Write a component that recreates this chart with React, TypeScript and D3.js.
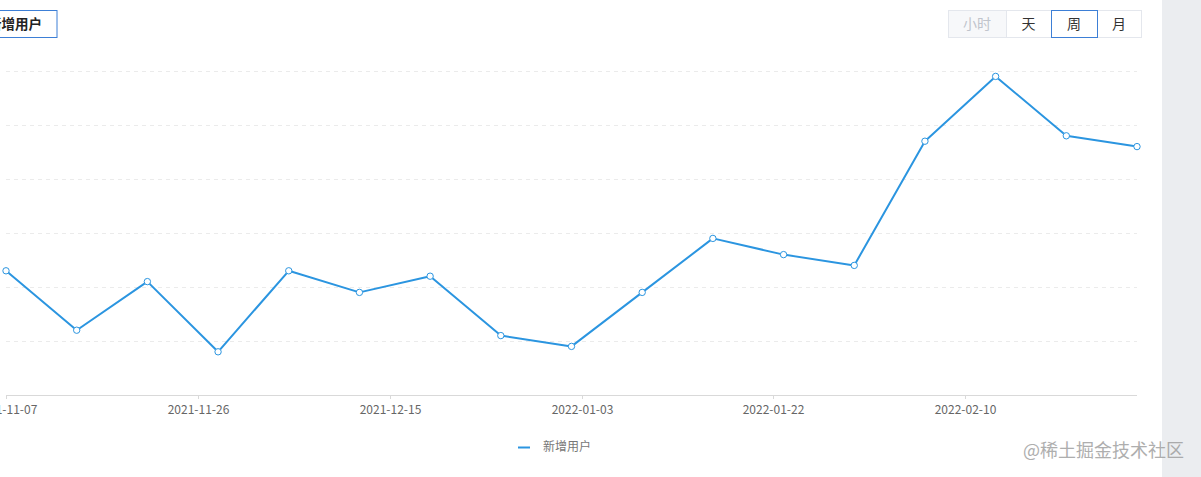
import React from "react";
import * as d3 from "d3";

const dates = [
  "2021-11-07","2021-11-14","2021-11-21","2021-11-28","2021-12-05","2021-12-12",
  "2021-12-19","2021-12-26","2022-01-02","2022-01-09","2022-01-16","2022-01-23",
  "2022-01-30","2022-02-06","2022-02-13","2022-02-20","2022-02-27",
];
const values = [23, 12, 21, 8, 23, 19, 22, 11, 9, 19, 29, 26, 24, 47, 59, 48, 46];
const tickDates = ["2021-11-07","2021-11-26","2021-12-15","2022-01-03","2022-01-22","2022-02-10"];
const yTicks = [0, 10, 20, 30, 40, 50, 60];
const seriesName = "新增用户";
const periodButtons = ["小时", "天", "周", "月"];

const W = 1201, H = 477;
const parse = d3.timeParse("%Y-%m-%d");
const fmt = d3.timeFormat("%Y-%m-%d");

export default function App() {
  const x = d3.scaleTime()
    .domain([parse(dates[0])!, parse(dates[dates.length - 1])!])
    .range([6, 1137]);
  const y = d3.scaleLinear().domain([0, 60]).range([395, 71]);
  const line = d3.line<number>()
    .x((_, i) => x(parse(dates[i])!))
    .y((d) => y(d));
  const font = "'Microsoft YaHei', 'Noto Sans CJK SC', sans-serif";
  const btnX = [948, 1006, 1051, 1097, 1141];
  return (
    <svg width={W} height={H} style={{ position: "absolute", left: 0, top: 0, background: "#fff" }} fontFamily={font}>
      <rect x={1162} y={0} width={W - 1162} height={H} fill="#ebedf0" />
      {/* top-left tab */}
      <rect x={-20} y={10.5} width={77} height={27} fill="#fff" stroke="#3d7fd6" strokeWidth={1} />
      <text x={42} y={28.5} textAnchor="end" fontSize={13.5} fontWeight="bold" fill="#222">新增用户</text>
      {/* period buttons */}
      {periodButtons.map((b, i) => {
        const x0 = btnX[i], x1 = btnX[i + 1];
        return (
          <g key={b}>
            <rect x={x0 + 0.5} y={10.5} width={x1 - x0} height={27}
              fill={i === 0 ? "#f7f8fa" : "#fff"} stroke="#e4e7ed" />
            <text x={(x0 + x1) / 2} y={29} textAnchor="middle" fontSize={14}
              fill={i === 0 ? "#c0c4cc" : "#333"}>{b}</text>
          </g>
        );
      })}
      <rect x={1051.5} y={10.5} width={46} height={27} fill="none" stroke="#3d7fd6" />
      {/* grid */}
      {yTicks.slice(1).map((t) => (
        <line key={t} x1={6} x2={1137} y1={Math.round(y(t)) + 0.5} y2={Math.round(y(t)) + 0.5}
          stroke="#ebebeb" strokeDasharray="4,4" />
      ))}
      {/* x axis */}
      <line x1={6} x2={1137} y1={395.5} y2={395.5} stroke="#d9d9d9" />
      {tickDates.map((t) => {
        const px = Math.round(x(parse(t)!)) + 0.5;
        return (
          <g key={t}>
            <line x1={px} x2={px} y1={395} y2={399} stroke="#d9d9d9" />
            <text x={px} y={414} textAnchor="middle" fontSize={12} fill="#666">{fmt(parse(t)!)}</text>
          </g>
        );
      })}
      {/* line */}
      <path d={line(values)!} fill="none" stroke="#2b95e0" strokeWidth={2} strokeLinejoin="round" />
      {values.map((v, i) => (
        <circle key={i} cx={x(parse(dates[i])!)} cy={y(v)} r={3.2} fill="#fff" stroke="#2b95e0" strokeWidth={1} />
      ))}
      {/* legend */}
      <line x1={518} x2={530} y1={447.5} y2={447.5} stroke="#2b95e0" strokeWidth={2} />
      <text x={543} y={451} fontSize={12} fill="#777">{seriesName}</text>
      {/* watermark */}
      <text x={1023} y={457} fontSize={18} fill="#9a9a9a" opacity={0.8}>@稀土掘金技术社区</text>
    </svg>
  );
}
